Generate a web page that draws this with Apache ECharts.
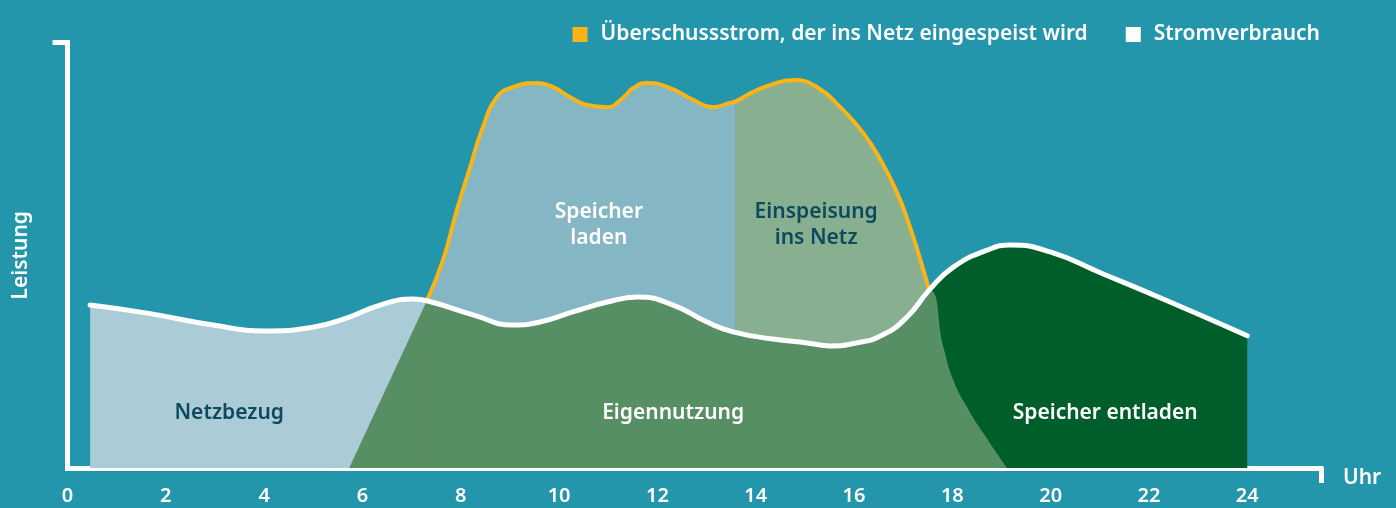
<!DOCTYPE html>
<html>
<head>
<meta charset="utf-8">
<title>Eigenverbrauch mit Speicher</title>
<script src="https://cdn.jsdelivr.net/npm/echarts@6/dist/echarts.min.js"></script>
<style>
  html, body { margin: 0; padding: 0; background: #2496ab; }
  #chart { width: 1396px; height: 508px; }
</style>
</head>
<body>
<div id="chart"></div>
<script>
  const xTicks = [0, 2, 4, 6, 8, 10, 12, 14, 16, 18, 20, 22, 24]

  // Stromverbrauch (weisse Linie)
  const verbrauch = [
    [0.46, 38.3], [1.62, 36.4], [2.96, 33.6], [3.98, 32.2], [4.99, 33.1], [5.69, 35.3],
    [6.36, 38.3], [7.03, 39.7], [7.31, 39.3], [8.25, 36.0], [9.06, 33.6], [9.61, 34.3],
    [10.28, 36.7], [10.98, 39.0], [11.59, 40.2], [12.32, 38.3], [13.01, 34.3], [13.54, 32.0],
    [14.35, 30.3], [15.05, 29.4], [15.51, 28.7], [16.06, 29.4], [16.59, 31.3], [17.08, 35.5],
    [17.53, 41.8], [18.02, 47.2], [18.71, 51.2], [19.18, 52.4], [19.99, 50.8], [21.01, 45.9],
    [22.37, 39.3], [24.00, 31.1]
  ]

  // PV-Erzeugung (orange Linie)
  const erzeugung = [
    [7.31, 39.3], [7.64, 48.9], [7.92, 60.6], [8.19, 70.7], [8.45, 80.1], [8.74, 87.2],
    [9.06, 89.5], [9.55, 90.5], [9.88, 89.5], [10.22, 87.2], [10.57, 85.3], [10.98, 84.8],
    [11.30, 87.0], [11.51, 89.3], [11.79, 90.5], [12.26, 89.3], [12.73, 86.5], [13.13, 84.8],
    [13.47, 85.8], [13.58, 86.1], [13.95, 88.4], [14.29, 90.0], [14.76, 91.2], [15.25, 89.5],
    [15.72, 84.8], [16.19, 78.7], [16.54, 72.4], [16.88, 64.6], [17.14, 56.6], [17.35, 48.9],
    [17.53, 41.8]
  ]

  // Grenze Speicher laden | Einspeisung
  const splitX = 13.58

  // Eigennutzung: linke und rechte Kante
  const eigenLinks = [[5.73, 0], [7.31, 39.3], [8.25, 36.0]]
  const eigenRechts = [
    [17.08, 35.5], [17.53, 41.8], [17.82, 28.4], [18.02, 20.7], [18.30, 14.3], [18.63, 8.2], [19.11, 0]
  ]

  // Flaechenbeschriftungen
  const flaechenNamen = ['Netzbezug', 'Speicher\nladen', 'Einspeisung\nins Netz', 'Eigennutzung', 'Speicher entladen']
  const flaechenPos = [[3.29, 12.9], [10.81, 57.1], [15.23, 57.1], [12.32, 12.9], [21.11, 12.9]]
  const flaechenDunkel = [true, false, true, false, false]

  const colors = {
    bg: '#2496ab',
    netz: '#abcbd6',
    laden: '#85b6c4',
    einspeisung: '#88af8f',
    eigen: '#578f64',
    entladen: '#005e2a',
    orange: '#fbb417',
    dark: '#0e4a5e'
  }

  const font = '"Noto Sans", "Open Sans", sans-serif'

  function area(name, data, color) {
    return {
      name: name,
      type: 'line',
      data: data,
      smooth: true,
      showSymbol: false,
      silent: true,
      lineStyle: {width: 0, opacity: 0},
      areaStyle: {color: color, opacity: 1}
    }
  }

  const chart = echarts.init(document.getElementById('chart'))
  chart.setOption({
    backgroundColor: colors.bg,
    animation: false,
    textStyle: {fontFamily: font},
    grid: {left: 67.5, right: 75, top: 42.5, bottom: 40, outerBoundsMode: 'none'},
    legend: {
      right: 71,
      top: 19,
      itemWidth: 15,
      itemHeight: 15,
      itemGap: 38,
      icon: 'rect',
      selectedMode: false,
      textStyle: {color: '#fff', fontSize: 21, fontWeight: 600, fontFamily: font, padding: [0, 0, 0, 8]},
      data: ['Überschussstrom, der ins Netz eingespeist wird', 'Stromverbrauch']
    },
    xAxis: {
      type: 'value',
      min: 0,
      max: 25.5,
      interval: 2,
      name: 'Uhr',
      nameLocation: 'end',
      nameGap: 22,
      nameTextStyle: {color: '#fff', fontSize: 21, fontWeight: 600, verticalAlign: 'top'},
      splitLine: {show: false},
      axisLine: {lineStyle: {color: '#fff', width: 5, cap: 'square'}},
      axisTick: {show: true, customValues: [25.5], length: 15, lineStyle: {color: '#fff', width: 5}},
      axisLabel: {color: '#fff', fontSize: 20, fontWeight: 600, margin: 18, customValues: xTicks}
    },
    yAxis: {
      type: 'value',
      min: 0,
      max: 100,
      name: 'Leistung',
      nameLocation: 'middle',
      nameRotate: 90,
      nameGap: 36,
      nameTextStyle: {color: '#fff', fontSize: 21, fontWeight: 600},
      splitLine: {show: false},
      axisLine: {show: true, lineStyle: {color: '#fff', width: 5, cap: 'square'}},
      axisTick: {show: true, customValues: [100], length: 15, lineStyle: {color: '#fff', width: 5}},
      axisLabel: {show: false}
    },
    series: [
      area('Speicher laden', erzeugung.filter(p => p[0] <= splitX), colors.laden),
      area('Einspeisung ins Netz', erzeugung.filter(p => p[0] >= splitX), colors.einspeisung),
      area('Netzbezug', verbrauch.filter(p => p[0] <= 8.25), colors.netz),
      area('Speicher entladen', verbrauch.filter(p => p[0] >= 17.08), colors.entladen),
      Object.assign(area('Eigennutzung', eigenLinks, colors.eigen), {smooth: false}),
      area('Eigennutzung', verbrauch.filter(p => p[0] >= 7.31 && p[0] <= 17.53), colors.eigen),
      area('Eigennutzung', eigenRechts, colors.eigen),
      {
        name: 'Überschussstrom, der ins Netz eingespeist wird',
        type: 'line',
        data: erzeugung,
        smooth: true,
        showSymbol: false,
        silent: true,
        itemStyle: {color: colors.orange},
        lineStyle: {color: colors.orange, width: 4, cap: 'round'}
      },
      {
        name: 'Stromverbrauch',
        type: 'line',
        data: verbrauch,
        smooth: true,
        showSymbol: false,
        silent: true,
        itemStyle: {color: '#fff'},
        lineStyle: {color: '#fff', width: 5, cap: 'round'}
      },
      {
        type: 'scatter',
        symbolSize: 0,
        silent: true,
        z: 10,
        itemStyle: {opacity: 1},
        label: {
          show: true,
          position: 'inside',
          formatter: '{b}',
          fontSize: 21,
          fontWeight: 600,
          lineHeight: 26,
          align: 'center'
        },
        data: flaechenNamen.map((n, i) => ({
          name: n,
          value: flaechenPos[i],
          label: {color: flaechenDunkel[i] ? colors.dark : '#fff'}
        }))
      }
    ]
  })
</script>
</body>
</html>
